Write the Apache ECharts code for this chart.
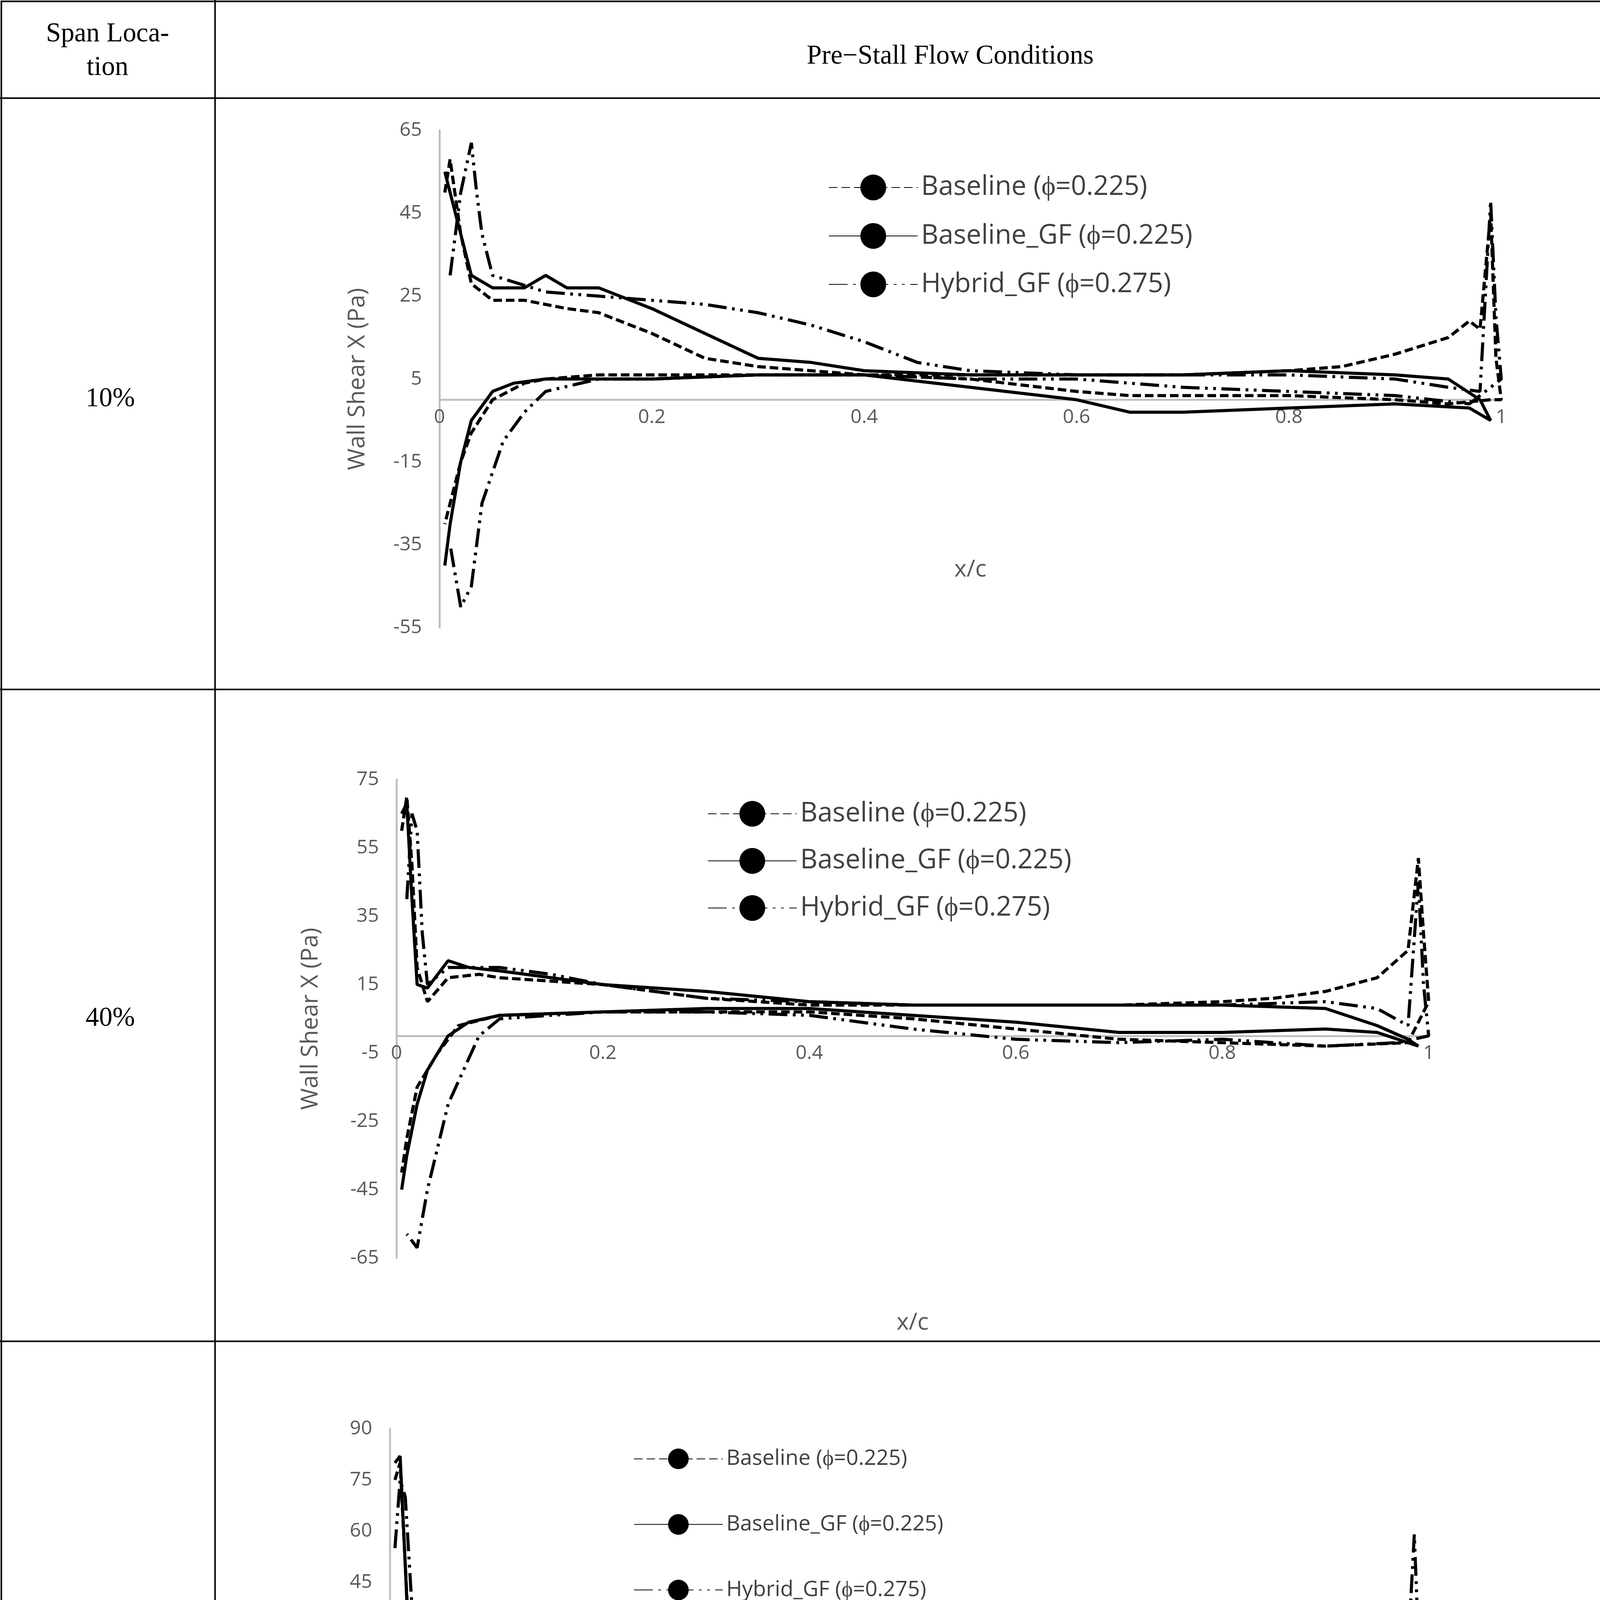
<!DOCTYPE html>
<html><head><meta charset="utf-8">
<script src="https://cdn.jsdelivr.net/npm/echarts@6/dist/echarts.min.js"></script>
<style>html,body{margin:0;padding:0;background:#fff}#c{width:4349px;height:5407px}</style>
</head><body><div id="c"></div>
<script>
// ---- Data (x/c, wall shear X in Pa); each curve runs along one surface and back along the other ----
const s10_base = [[0.005,50],[0.01,58],[0.02,40],[0.03,28],[0.05,24],[0.08,24],[0.1,23],[0.12,22],[0.15,21],[0.2,16],[0.25,10],[0.3,8],[0.35,7],[0.4,6],[0.5,6],[0.6,6],[0.7,6],[0.8,7],[0.85,8],[0.9,11],[0.95,15],[0.97,19],[0.98,17],[0.99,45],[0.995,10],[1,0],[0.99,0],[0.95,-1],[0.9,0],[0.8,1],[0.7,1],[0.65,1],[0.6,2],[0.5,5],[0.4,6],[0.3,6],[0.2,6],[0.15,6],[0.1,5],[0.08,4],[0.05,0],[0.03,-8],[0.02,-15],[0.01,-25],[0.005,-30]];
const s10_gf = [[0.005,55],[0.015,45],[0.03,30],[0.05,27],[0.08,27],[0.1,30],[0.12,27],[0.15,27],[0.18,24],[0.2,22],[0.25,16],[0.3,10],[0.35,9],[0.4,7],[0.5,6],[0.6,6],[0.7,6],[0.8,7],[0.9,6],[0.95,5],[0.98,0],[0.99,-5],[0.97,-2],[0.9,-1],[0.8,-2],[0.7,-3],[0.65,-3],[0.6,0],[0.5,3],[0.4,6],[0.3,6],[0.2,5],[0.15,5],[0.1,5],[0.07,4],[0.05,2],[0.03,-5],[0.02,-15],[0.01,-30],[0.005,-40]];
const s10_hyb = [[0.01,30],[0.02,50],[0.03,62],[0.035,50],[0.04,40],[0.05,30],[0.1,26],[0.15,25],[0.2,24],[0.25,23],[0.3,21],[0.35,18],[0.4,14],[0.45,9],[0.5,7],[0.6,6],[0.7,6],[0.8,6],[0.9,5],[0.95,3],[0.98,2],[0.99,48],[0.995,20],[1,5],[0.97,-1],[0.9,1],[0.8,2],[0.7,3],[0.6,5],[0.5,5],[0.4,6],[0.3,6],[0.2,5],[0.15,5],[0.1,2],[0.08,-3],[0.06,-10],[0.04,-25],[0.03,-45],[0.02,-50],[0.01,-35]];

const s40_base = [[0.005,60],[0.01,70],[0.015,50],[0.02,20],[0.03,10],[0.05,17],[0.08,18],[0.1,17],[0.15,16],[0.2,15],[0.3,11],[0.4,9],[0.5,9],[0.6,9],[0.7,9],[0.8,10],[0.85,11],[0.9,13],[0.95,17],[0.98,25],[0.99,52],[0.995,30],[1,10],[0.98,-2],[0.9,-3],[0.8,-2],[0.7,-1],[0.6,2],[0.5,5],[0.4,7],[0.3,7],[0.2,7],[0.1,6],[0.06,3],[0.04,-5],[0.02,-15],[0.01,-30],[0.005,-40]];
const s40_gf = [[0.005,65],[0.01,68],[0.015,40],[0.02,15],[0.03,14],[0.05,22],[0.07,20],[0.1,19],[0.15,17],[0.2,15],[0.3,13],[0.4,10],[0.5,9],[0.6,9],[0.7,9],[0.8,9],[0.9,8],[0.95,3],[0.98,-1],[0.99,-3],[0.95,1],[0.9,2],[0.8,1],[0.7,1],[0.6,4],[0.5,6],[0.4,8],[0.3,8],[0.2,7],[0.1,6],[0.07,4],[0.05,0],[0.03,-10],[0.02,-20],[0.01,-35],[0.005,-45]];
const s40_hyb = [[0.01,40],[0.015,65],[0.02,60],[0.025,30],[0.03,15],[0.05,20],[0.1,20],[0.15,18],[0.2,15],[0.3,11],[0.4,10],[0.5,9],[0.6,9],[0.7,9],[0.8,9],[0.9,10],[0.95,8],[0.98,3],[0.99,45],[0.995,15],[1,0],[0.97,-2],[0.9,-3],[0.8,-1],[0.7,-2],[0.6,-1],[0.5,2],[0.45,4],[0.4,6],[0.3,7],[0.2,7],[0.1,5],[0.08,0],[0.05,-20],[0.03,-45],[0.02,-62],[0.01,-58]];

const s80_base = [[0.005,75],[0.01,80],[0.015,50],[0.02,20],[0.03,10],[0.05,17],[0.08,17],[0.1,16],[0.15,14],[0.2,12],[0.3,11],[0.4,11],[0.5,11],[0.6,11],[0.7,12],[0.8,13],[0.9,15],[0.95,20],[0.97,25],[0.99,34],[1,10],[0.98,0],[0.9,-1],[0.8,0],[0.7,2],[0.6,4],[0.5,5],[0.4,6],[0.3,7],[0.2,8],[0.15,8],[0.1,8],[0.07,6],[0.05,0],[0.03,-15],[0.015,-35],[0.005,-45]];
const s80_gf = [[0.005,80],[0.01,82],[0.015,50],[0.02,15],[0.025,9],[0.04,20],[0.06,20],[0.1,17],[0.15,14],[0.2,12],[0.3,11],[0.4,11],[0.5,11],[0.6,11],[0.7,11],[0.8,11],[0.9,10],[0.94,8],[0.97,2],[0.99,-12],[0.95,0],[0.9,1],[0.8,2],[0.7,4],[0.6,6],[0.5,8],[0.4,9],[0.3,9],[0.2,9],[0.1,9],[0.06,6],[0.04,0],[0.02,-15],[0.01,-35],[0.005,-50]];
const s80_hyb = [[0.005,55],[0.01,75],[0.015,70],[0.02,45],[0.025,20],[0.03,12],[0.04,18],[0.06,19],[0.1,15],[0.15,13],[0.2,11],[0.3,11],[0.4,11],[0.5,11],[0.6,12],[0.7,12],[0.8,11],[0.9,10],[0.95,8],[0.98,3],[0.99,59],[0.995,20],[1,0],[0.97,-2],[0.9,-3],[0.8,-4],[0.7,-4],[0.6,-4],[0.5,-4],[0.4,-5],[0.3,-3],[0.25,-1],[0.2,2],[0.15,6],[0.1,8],[0.07,2],[0.05,-10],[0.03,-35],[0.015,-55],[0.005,-50]];

const seriesNames = ['Baseline (ϕ=0.225)','Baseline_GF (ϕ=0.225)','Hybrid_GF (ϕ=0.275)'];
const rowLabels = ['10%','40%','80%'];
const yRanges = [[-55,65,20],[-65,75,20],[-75,90,15]];
const xTicks = [0,0.2,0.4,0.6,0.8,1];

const S = 4349/1264;
const grids = [
  {left:327*S, right:4349-1117*S, top:97*S, height:(467-97)*S, leg:[615,128,40,20], xname:118},
  {left:295*S, right:4349-1063*S, top:580*S, height:(936-580)*S, leg:[525,594,39,20], xname:205},
  {left:290*S, right:4349-1060*S, top:1063*S, height:(1482-1063)*S, leg:[470,1076,52,16], xname:88}
];
const allData = [[s10_base,s10_gf,s10_hyb],[s40_base,s40_gf,s40_hyb],[s80_base,s80_gf,s80_hyb]];
const styles = [
  {type:[22,10]},
  {type:'solid'},
  {type:[48,14,7,14,7,14]}
];

const option = {backgroundColor:'#fff', animation:false, grid:[], xAxis:[], yAxis:[], series:[], legend:[], graphic:[]};
grids.forEach((g,i)=>{
  const [mn,mx,iv] = yRanges[i];
  const zeroUp = g.height*(0-mn)/(mx-mn);
  option.grid.push({left:g.left,right:g.right,top:g.top,height:g.height});
  option.xAxis.push({gridIndex:i,type:'value',min:0,max:1,interval:0.2,position:'bottom',offset:-zeroUp,
    axisLine:{onZero:false,lineStyle:{color:'#bfbfbf',width:5}},axisTick:{show:false},splitLine:{show:false},
    axisLabel:{color:'#595959',fontSize:50,fontFamily:'Open Sans',margin:20,formatter:v=>xTicks.includes(+v.toFixed(1))?String(+v.toFixed(1)):''},
    name:'x/c',nameLocation:'middle',nameGap:g.xname*S,nameTextStyle:{color:'#595959',fontSize:60,fontFamily:'Open Sans'}});
  option.yAxis.push({gridIndex:i,type:'value',min:mn,max:mx,interval:iv,
    axisLine:{show:true,onZero:false,lineStyle:{color:'#bfbfbf',width:5}},axisTick:{show:false},splitLine:{show:false},
    axisLabel:{color:'#595959',fontSize:50,fontFamily:'Open Sans',margin:45},
    name:'Wall Shear X (Pa)',nameLocation:'middle',nameGap:(i==0?52:55)*S,nameRotate:90,
    nameTextStyle:{color:'#595959',fontSize:60,fontFamily:'Open Sans'}});
  allData[i].forEach((d,k)=>{
    option.series.push({type:'line',name:seriesNames[k],xAxisIndex:i,yAxisIndex:i,data:d,showSymbol:false,symbol:'none',
      lineStyle:Object.assign({color:'#000',width:8},styles[k]),itemStyle:{color:'#000'},z:3});
  });
  option.legend.push({orient:'vertical',left:g.leg[0]*S,top:g.leg[1]*S,itemGap:(g.leg[2]-g.leg[3]*1.2)*S,
    itemWidth:66*S,itemHeight:g.leg[3]*1.2*S,data:seriesNames,
    textStyle:{color:'#404040',fontSize:g.leg[3]*S,fontFamily:'Open Sans',padding:[0,0,0,4]}});
});
// table
const L = (x1,y1,x2,y2)=>({type:'line',shape:{x1:x1*S,y1:y1*S,x2:x2*S,y2:y2*S},style:{stroke:'#000',lineWidth:4},z:100});
option.graphic.push(
  {type:'rect',shape:{x:1*S,y:1*S,width:1254*S,height:1534*S},style:{fill:'none',stroke:'#000',lineWidth:4},z:100},
  L(0,73,1255,73),L(0,513,1255,513),L(0,998,1255,998),L(160,0,160,1535)
);
const T=(x,y,t,fs,extra)=>Object.assign({type:'text',x:x*S,y:y*S,style:{text:t,fill:'#000',font:(fs*S)+'px "Liberation Serif"',align:'center',verticalAlign:'middle',lineHeight:fs*1.25*S}},extra||{});
option.graphic.push(T(80,38,'Span Loca-\ntion',20),T(707,42,'Pre−Stall Flow Conditions',20));
rowLabels.forEach((r,i)=>option.graphic.push(T(82,[297,758,1270][i],r,20)));
option.graphic.push({type:'text',x:632*S,y:1556*S,style:{text:'(a)',fill:'#000',font:'bold '+(17*S)+'px "Liberation Serif"',align:'center',verticalAlign:'middle'}});

const ch = echarts.init(document.getElementById('c'));
ch.setOption(option);
</script></body></html>
